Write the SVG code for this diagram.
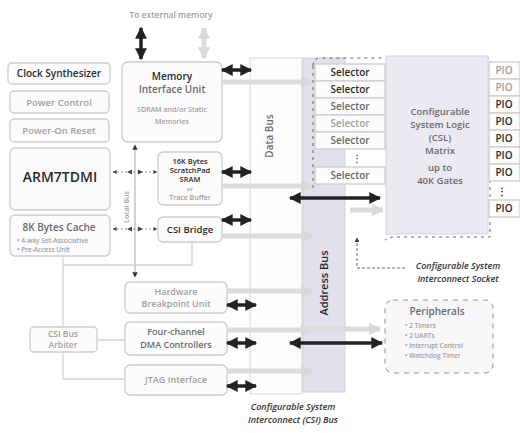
<svg xmlns="http://www.w3.org/2000/svg" width="520" height="433" viewBox="0 0 520 433">
<style>
text{font-family:"Open Sans","Noto Sans","Liberation Sans",sans-serif;text-anchor:middle}
.box{fill:#fcfcfc;stroke:#cdcdcd;stroke-width:1.3}
.dk{fill:#2a2a2a;font-weight:600}
.md{fill:#6a6a6a;font-weight:600}
.lt{fill:#a0a0a0;font-weight:600}
.it{font-style:italic;font-weight:600;fill:#333}
.blk{stroke:#222;stroke-width:3.5;fill:none;marker-start:url(#bh);marker-end:url(#bh)}
.gry{stroke:#dcdcdc;stroke-width:5;fill:none;marker-end:url(#gh)}
.thin{stroke:#d4d4d4;stroke-width:1.3;fill:none}
.dash{stroke:#555;stroke-width:0.9;fill:none;stroke-dasharray:3 4}
</style>
<defs>
<marker id="bh" viewBox="0 0 10 10" refX="9" refY="5" markerWidth="3.6" markerHeight="3.4" orient="auto-start-reverse"><path d="M0,0L10,5L0,10z" fill="#222"/></marker>
<marker id="gh" viewBox="0 0 10 10" refX="9" refY="5" markerWidth="2.4" markerHeight="2.6" orient="auto-start-reverse"><path d="M0,0L10,5L0,10z" fill="#d8d8d8"/></marker>
<marker id="sh" viewBox="0 0 10 10" refX="9" refY="5" markerWidth="5" markerHeight="5" orient="auto-start-reverse"><path d="M0,0L10,5L0,10z" fill="#444"/></marker>
<marker id="lh" viewBox="0 0 10 10" refX="9" refY="5" markerWidth="6" markerHeight="6" orient="auto-start-reverse"><path d="M0,0L10,5L0,10z" fill="#333"/></marker>
</defs>
<rect width="520" height="433" fill="#ffffff"/>

<g id="buses">
<g id="data-bus">
<rect x="250" y="58" width="52" height="336" fill="#fdfdfd" stroke="#dedede" stroke-width="1.2"/>
<text x="0" y="0" transform="translate(273,136) rotate(-90)" font-size="10" class="md">Data Bus</text>
</g>
<g id="address-bus">
<rect x="303" y="58" width="42" height="334" fill="#e2e0ea" stroke="#d4d2de" stroke-width="1"/>
<text x="0" y="0" transform="translate(328,283) rotate(-90)" font-size="11" class="dk">Address Bus</text>
</g>
</g>

<g id="socket-outline">
<path class="dash" d="M313,66 Q313,58 321,58 L382,58 M388,58 L490,58 L490,237 L392,237 L385,240"/>
<path class="dash" d="M313,66 L313,190"/>
</g>

<g id="csl-matrix">
<rect x="386" y="56" width="102" height="178" fill="#ebe9f2" stroke="#d6d4e0" stroke-width="1"/>
<text x="440" y="115" font-size="9.5" class="md">Configurable</text>
<text x="440" y="128" font-size="9.5" class="md">System Logic</text>
<text x="440" y="141" font-size="9.5" class="md">(CSL)</text>
<text x="440" y="154" font-size="9.5" class="md">Matrix</text>
<text x="440" y="171" font-size="9.5" class="md">up to</text>
<text x="440" y="184" font-size="9.5" class="md">40K Gates</text>
</g>

<g id="selectors">
<rect x="315" y="64" width="70" height="17" class="box"/><text x="350" y="76" font-size="10" class="dk">Selector</text>
<rect x="315" y="81" width="70" height="17" class="box"/><text x="350" y="93" font-size="10" class="dk">Selector</text>
<rect x="315" y="98" width="70" height="17" class="box"/><text x="350" y="110" font-size="10" class="md">Selector</text>
<rect x="315" y="115" width="70" height="17" class="box"/><text x="350" y="127" font-size="10" class="lt">Selector</text>
<rect x="315" y="132" width="70" height="17" class="box"/><text x="350" y="144" font-size="10" class="md">Selector</text>
<text x="357" y="162" font-size="10" class="md">⋮</text>
<rect x="315" y="167" width="70" height="17" class="box"/><text x="350" y="179" font-size="10" class="md">Selector</text>
</g>

<g id="pios">
<rect x="489" y="62" width="31" height="17" class="box"/><text x="504" y="74" font-size="10" class="lt">PIO</text>
<rect x="489" y="79" width="31" height="17" class="box"/><text x="504" y="91" font-size="10" class="lt">PIO</text>
<rect x="489" y="96" width="31" height="17" class="box"/><text x="504" y="108" font-size="10" class="dk">PIO</text>
<rect x="489" y="113" width="31" height="17" class="box"/><text x="504" y="125" font-size="10" class="dk">PIO</text>
<rect x="489" y="130" width="31" height="17" class="box"/><text x="504" y="142" font-size="10" class="dk">PIO</text>
<rect x="489" y="147" width="31" height="17" class="box"/><text x="504" y="159" font-size="10" class="dk">PIO</text>
<rect x="489" y="164" width="31" height="17" class="box"/><text x="504" y="176" font-size="10" class="dk">PIO</text>
<text x="502" y="195" font-size="10" class="dk">⋮</text>
<rect x="489" y="200" width="31" height="17" class="box"/><text x="504" y="212" font-size="10" class="dk">PIO</text>
</g>

<g id="clock-synthesizer"><rect x="8" y="63" width="102" height="21" rx="4" class="box"/><text x="59" y="77" font-size="10" class="dk">Clock Synthesizer</text></g>
<g id="power-control"><rect x="10" y="91" width="99" height="22" rx="4" class="box"/><text x="59" y="106" font-size="9.5" class="lt">Power Control</text></g>
<g id="power-on-reset"><rect x="10" y="119" width="99" height="23" rx="4" class="box"/><text x="59" y="134" font-size="9.5" class="lt">Power-On Reset</text></g>
<g id="arm7tdmi"><rect x="10" y="148" width="100" height="62" rx="5" class="box"/><text x="60" y="182" font-size="14" class="dk">ARM7TDMI</text></g>
<g id="cache"><rect x="10" y="215" width="100" height="41" rx="5" class="box"/>
<text x="59" y="231" font-size="10" class="md">8K Bytes Cache</text>
<text x="17" y="243" font-size="6.5" class="lt" style="text-anchor:start">• 4-way Set-Associative</text>
<text x="17" y="252" font-size="6.5" class="lt" style="text-anchor:start">• Pre-Access Unit</text>
</g>

<g id="to-external-memory"><text x="171" y="18" font-size="8.5" class="lt">To external memory</text></g>

<g id="memory-interface-unit"><rect x="122" y="62" width="100" height="80" rx="6" class="box"/>
<text x="172" y="80" font-size="10" class="dk">Memory</text>
<text x="172" y="93" font-size="10" class="md">Interface Unit</text>
<text x="172" y="112" font-size="7" class="lt">SDRAM and/or Static</text>
<text x="172" y="124" font-size="7" class="lt">Memories</text>
</g>

<g id="scratchpad-sram"><rect x="158" y="152" width="64" height="53" rx="5" class="box"/>
<text x="190" y="164" font-size="7.5" class="dk">16K Bytes</text>
<text x="190" y="173" font-size="7.5" class="dk">ScratchPad</text>
<text x="190" y="182" font-size="7.5" class="dk">SRAM</text>
<text x="190" y="191" font-size="6" class="lt">or</text>
<text x="190" y="200" font-size="7" class="lt">Trace Buffer</text>
</g>

<g id="csi-bridge"><rect x="158" y="217" width="64" height="25" rx="5" class="box"/><text x="190" y="233" font-size="9.5" class="dk">CSI Bridge</text></g>

<g id="hardware-breakpoint-unit"><rect x="125" y="282" width="102" height="31" rx="5" class="box"/>
<text x="176" y="295" font-size="9" class="lt">Hardware</text>
<text x="176" y="307" font-size="9" class="lt">Breakpoint Unit</text>
</g>
<g id="dma-controllers"><rect x="125" y="322" width="102" height="33" rx="5" class="box"/>
<text x="176" y="335" font-size="9" class="md">Four-channel</text>
<text x="176" y="348" font-size="9" class="md">DMA Controllers</text>
</g>
<g id="jtag-interface"><rect x="125" y="365" width="102" height="30" rx="5" class="box"/><text x="176" y="383" font-size="9" class="lt">JTAG Interface</text></g>
<g id="csi-bus-arbiter"><rect x="30" y="327" width="67" height="25" rx="4" class="box"/>
<text x="63" y="337" font-size="8.5" class="lt">CSI Bus</text>
<text x="63" y="348" font-size="8.5" class="lt">Arbiter</text>
</g>

<g id="peripherals"><rect x="385" y="300" width="108" height="73" rx="8" fill="#f7f7f9" stroke="#888" stroke-width="0.9" stroke-dasharray="5 5"/>
<text x="437" y="315" font-size="10" class="md">Peripherals</text>
<text x="405" y="328" font-size="6.5" class="lt" style="text-anchor:start">• 2 Timers</text>
<text x="405" y="338" font-size="6.5" class="lt" style="text-anchor:start">• 2 UARTs</text>
<text x="405" y="348" font-size="6.5" class="lt" style="text-anchor:start">• Interrupt Control</text>
<text x="405" y="358" font-size="6.5" class="lt" style="text-anchor:start">• Watchdog Timer</text>
</g>

<g id="labels">
<text x="458" y="269" font-size="9" class="it">Configurable System</text>
<text x="458" y="282" font-size="9" class="it">Interconnect Socket</text>
<text x="293" y="410" font-size="9" class="it">Configurable System</text>
<text x="293" y="423" font-size="9" class="it">Interconnect (CSI) Bus</text>
<text x="0" y="0" transform="translate(129,207) rotate(-90)" font-size="7" class="lt">Local Bus</text>
</g>

<g id="connectors">
<line x1="141" y1="28" x2="141" y2="59" class="blk"/>
<line x1="204" y1="58" x2="204" y2="28" class="gry" style="marker-start:url(#gh)"/>
<line x1="222" y1="70" x2="251" y2="70" class="blk"/>
<line x1="222" y1="82" x2="312" y2="82" class="gry"/>
<line x1="222" y1="172" x2="251" y2="172" class="blk"/>
<line x1="222" y1="186" x2="312" y2="186" class="gry"/>
<line x1="222" y1="220" x2="251" y2="220" class="blk"/>
<line x1="222" y1="236" x2="312" y2="236" class="gry"/>
<line x1="227" y1="305" x2="256" y2="305" class="blk"/>
<line x1="227" y1="291" x2="312" y2="291" class="gry"/>
<line x1="227" y1="343" x2="256" y2="343" class="blk"/>
<line x1="227" y1="330" x2="312" y2="330" class="gry"/>
<line x1="227" y1="386" x2="256" y2="386" class="blk"/>
<line x1="227" y1="371" x2="312" y2="371" class="gry"/>
<line x1="290" y1="198" x2="380" y2="198" class="blk"/>
<line x1="290" y1="343" x2="382" y2="343" class="blk"/>
<line x1="300" y1="329" x2="380" y2="329" class="gry"/>
<line x1="350" y1="210" x2="383" y2="210" class="gry"/>
<line x1="135" y1="145" x2="135" y2="277" stroke="#9a9a9a" stroke-width="0.9" marker-start="url(#lh)" marker-end="url(#lh)"/>
<line x1="113" y1="172" x2="157" y2="172" stroke="#777" stroke-width="0.8" stroke-dasharray="2 2" marker-start="url(#sh)" marker-end="url(#sh)"/>
<line x1="113" y1="229" x2="157" y2="229" stroke="#777" stroke-width="0.8" stroke-dasharray="2 2" marker-start="url(#sh)" marker-end="url(#sh)"/>
<path d="M127,172L132,169.5L132,174.5z M143,172L138,169.5L138,174.5z M127,229L132,226.5L132,231.5z M143,229L138,226.5L138,231.5z" fill="#444"/>
<path class="thin" d="M63,256V327 M63,352V379H125 M97,340H125 M63,265H192V242"/>
<path d="M357,238V268H405" stroke="#444" stroke-width="0.8" fill="none" stroke-dasharray="3 2" marker-start="url(#lh)"/>
</g>
</svg>
